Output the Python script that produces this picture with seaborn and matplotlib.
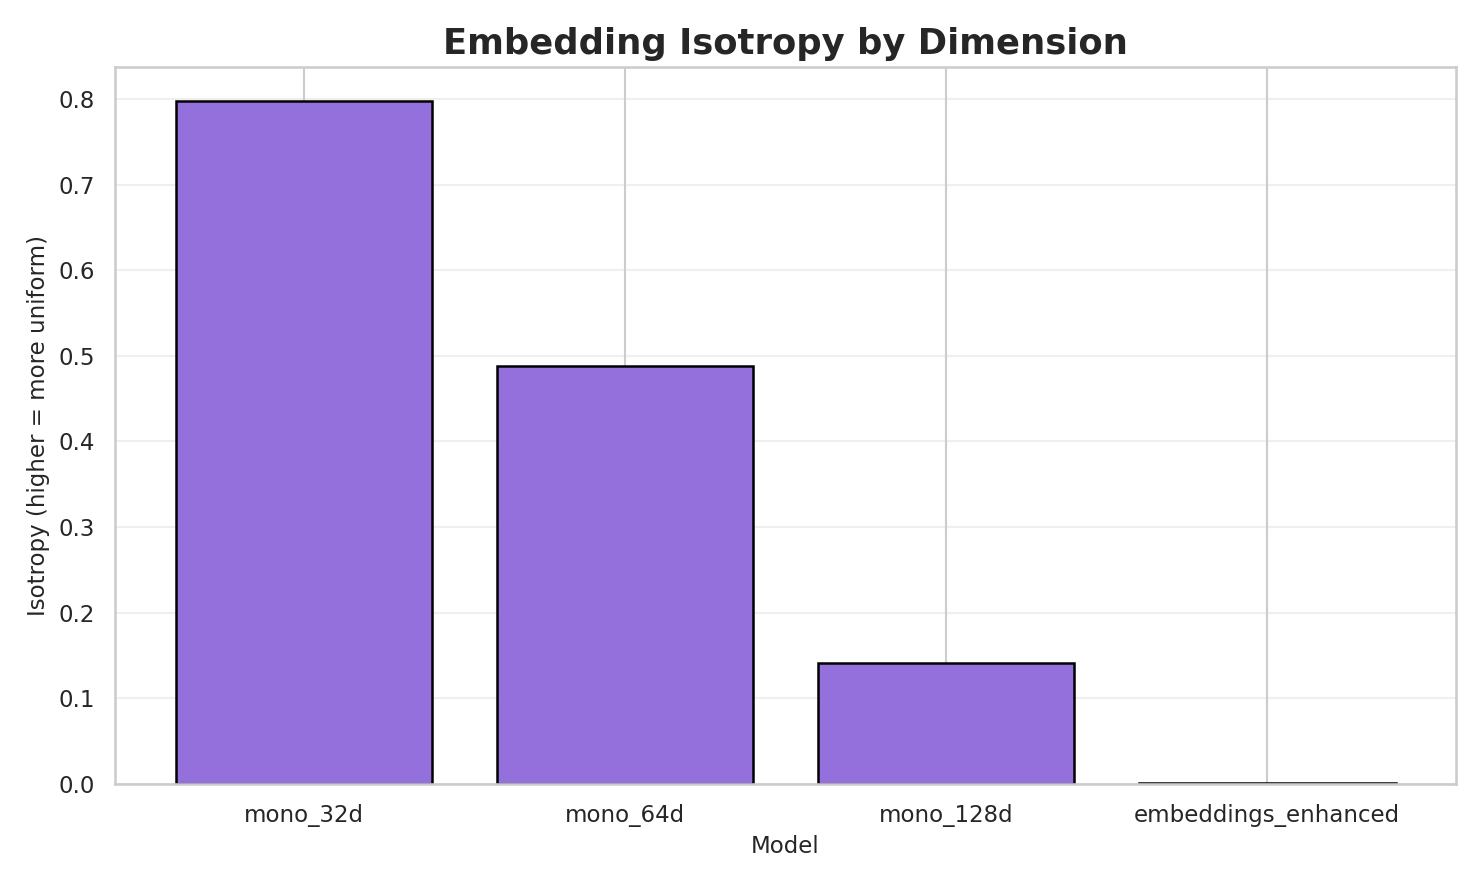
import matplotlib
matplotlib.use('Agg')
import matplotlib.pyplot as plt
import seaborn as sns
import pandas as pd

models = ['mono_32d', 'mono_64d', 'mono_128d', 'embeddings_enhanced']
isotropy = [0.798, 0.488, 0.141, 0.0005]

df = pd.DataFrame({'Model': models, 'Isotropy': isotropy})

sns.set_theme(style='whitegrid')
fig, ax = plt.subplots(figsize=(9.89, 5.9), dpi=150)
sns.barplot(data=df, x='Model', y='Isotropy', color='#9370DB',
            saturation=1, edgecolor='black', linewidth=1.2, width=0.8, ax=ax)
ax.grid(axis='y', alpha=0.3)
ax.grid(axis='x', visible=True)
ax.set_axisbelow(True)
ax.set_xlim(-0.59, 3.59)
ax.set_ylim(0, 0.838)
ax.tick_params(labelsize=11)
ax.set_title('Embedding Isotropy by Dimension', fontsize=17, fontweight='bold')
ax.set_xlabel('Model', fontsize=11)
ax.set_ylabel('Isotropy (higher = more uniform)', fontsize=11)
plt.tight_layout()
fig.savefig('out.png', dpi=150)
